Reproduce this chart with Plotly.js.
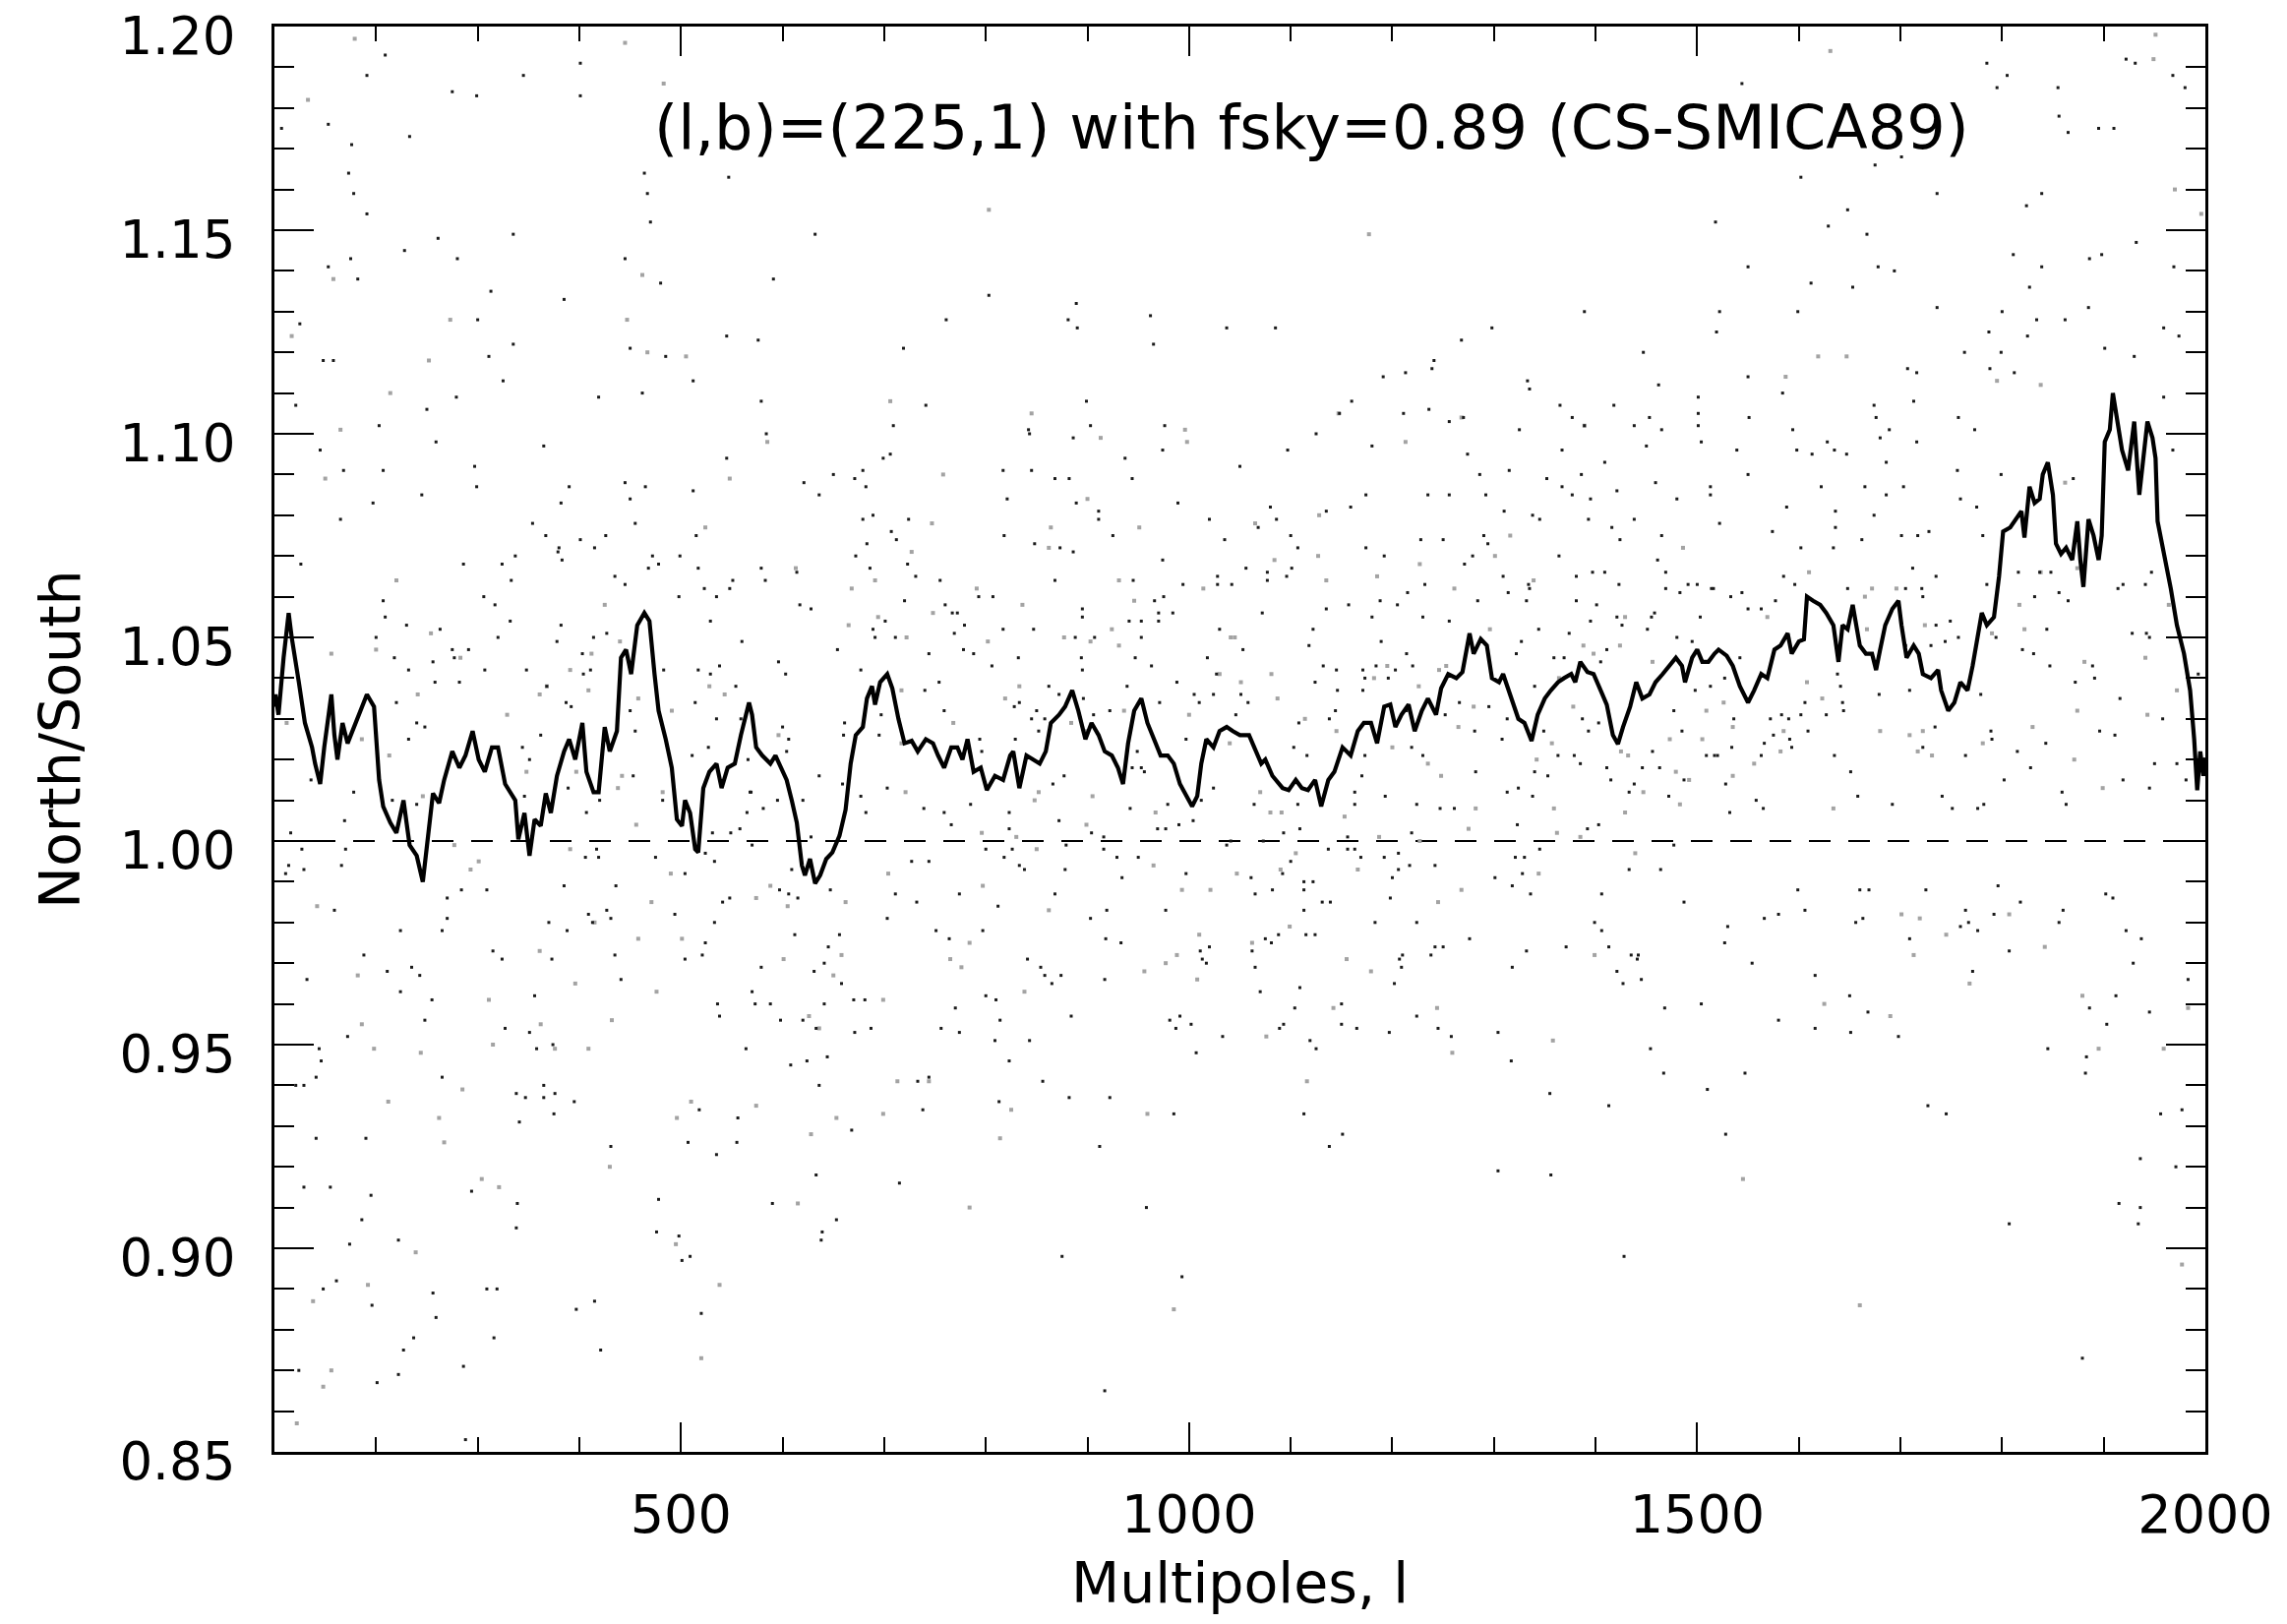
<!DOCTYPE html>
<html>
<head>
<meta charset="utf-8">
<script src="https://cdn.plot.ly/plotly-3.0.1.min.js"></script>
<style>
  html, body { margin: 0; padding: 0; background: #ffffff; }
  #chart { width: 2325px; height: 1651px; }
</style>
</head>
<body>
<div id="chart"></div>
<script>
// ---------------- DATA ----------------
const xRange = [100, 2000];
const yRange = [0.85, 1.20];
const referenceRatio = 1.0;
const xTickVals = [500, 1000, 1500, 2000];
const yTickVals = [0.85, 0.90, 0.95, 1.00, 1.05, 1.10, 1.15, 1.20];
const titleText = '(l,b)=(225,1) with fsky=0.89 (CS-SMICA89)';
const xTitle = 'Multipoles, l';
const yTitle = 'North/South';

// North/South ratio curve [multipole l, ratio]
const ratioCurve = [
 [100,1.033],[101,1.036],[104,1.031],[109,1.045],[114,1.056],[117,1.050],[124,1.039],[130,1.029],[137,1.023],[140,1.019],
 [145,1.014],[149,1.023],[156,1.036],[159,1.026],[162,1.020],[167,1.029],[172,1.024],[178,1.028],[185,1.032],[191,1.036],
 [198,1.033],[203,1.015],[207,1.0085],[214,1.0045],[220,1.002],[227,1.010],[233,0.999],[240,0.9964],[246,0.990],[251,1.0013],
 [256,1.0117],[262,1.0093],[267,1.015],[275,1.022],[282,1.018],[288,1.021],[295,1.027],[301,1.020],[307,1.017],[314,1.023],
 [320,1.023],[327,1.014],[337,1.010],[340,1.0004],[346,1.0069],[351,0.9964],[356,1.0053],[362,1.0037],[367,1.0117],[372,1.0069],
 [378,1.016],[385,1.022],[390,1.025],[396,1.020],[403,1.029],[407,1.017],[414,1.012],[419,1.012],[425,1.028],[430,1.022],
 [437,1.027],[441,1.045],[446,1.047],[451,1.041],[457,1.053],[464,1.056],[469,1.054],[474,1.041],[478,1.032],[485,1.025],
 [491,1.018],[496,1.0053],[501,1.0037],[504,1.010],[509,1.0069],[514,0.998],[517,0.9972],[522,1.013],[528,1.017],[535,1.019],
 [540,1.013],[546,1.018],[553,1.019],[559,1.026],[567,1.034],[570,1.031],[574,1.023],[580,1.021],[588,1.019],[593,1.021],
 [599,1.018],[604,1.015],[609,1.010],[614,1.0045],[619,0.994],[622,0.9916],[627,0.9956],[632,0.9896],[637,0.9916],[643,0.9956],
 [649,0.9972],[656,1.0013],[662,1.0077],[667,1.019],[672,1.026],[679,1.028],[683,1.035],[688,1.038],[691,1.0335],[696,1.039],
 [703,1.041],[708,1.0375],[714,1.030],[720,1.024],[727,1.0246],[733,1.022],[741,1.025],[748,1.024],[753,1.021],[759,1.018],
 [766,1.023],[772,1.023],[777,1.020],[782,1.025],[788,1.017],[795,1.018],[801,1.0125],[809,1.016],[817,1.015],[824,1.021],
 [827,1.022],[833,1.013],[840,1.021],[846,1.020],[853,1.019],[859,1.022],[864,1.029],[872,1.031],[878,1.033],[885,1.037],
 [891,1.032],[898,1.025],[904,1.029],[911,1.026],[917,1.022],[924,1.021],[930,1.018],[935,1.014],[940,1.024],[946,1.032],
 [953,1.035],[959,1.029],[966,1.025],[972,1.021],[979,1.021],[985,1.019],[991,1.014],[998,1.011],[1003,1.0085],[1008,1.011],
 [1012,1.019],[1017,1.025],[1024,1.023],[1030,1.027],[1037,1.028],[1043,1.027],[1050,1.026],[1059,1.026],[1064,1.023],[1071,1.019],
 [1075,1.020],[1082,1.016],[1092,1.013],[1098,1.0125],[1105,1.015],[1111,1.013],[1117,1.0125],[1124,1.015],[1130,1.0085],[1137,1.015],
 [1143,1.017],[1151,1.023],[1159,1.021],[1166,1.027],[1172,1.029],[1179,1.029],[1185,1.024],[1192,1.033],[1198,1.0335],[1203,1.028],
 [1209,1.031],[1216,1.0335],[1222,1.027],[1229,1.032],[1235,1.035],[1243,1.031],[1248,1.0375],[1255,1.041],[1263,1.040],[1269,1.0415],
 [1276,1.051],[1280,1.046],[1287,1.0496],[1293,1.048],[1298,1.040],[1305,1.039],[1309,1.041],[1316,1.036],[1324,1.030],[1330,1.029],
 [1337,1.0246],[1343,1.031],[1350,1.035],[1356,1.037],[1363,1.039],[1369,1.040],[1376,1.041],[1380,1.039],[1385,1.044],[1392,1.0415],
 [1398,1.041],[1405,1.037],[1411,1.0335],[1417,1.026],[1422,1.0238],[1427,1.028],[1434,1.033],[1440,1.039],[1446,1.035],[1453,1.036],
 [1459,1.039],[1466,1.041],[1472,1.043],[1479,1.045],[1485,1.043],[1488,1.039],[1495,1.045],[1500,1.047],[1505,1.044],[1511,1.044],
 [1517,1.046],[1521,1.047],[1529,1.0455],[1535,1.043],[1542,1.038],[1550,1.034],[1556,1.037],[1563,1.041],[1569,1.040],[1576,1.047],
 [1582,1.048],[1589,1.051],[1593,1.046],[1600,1.049],[1605,1.0495],[1608,1.060],[1614,1.059],[1621,1.058],[1627,1.056],[1634,1.053],
 [1639,1.044],[1643,1.053],[1648,1.052],[1653,1.058],[1660,1.048],[1666,1.046],[1672,1.046],[1676,1.042],[1680,1.047],[1685,1.053],
 [1692,1.057],[1698,1.059],[1701,1.053],[1706,1.045],[1713,1.048],[1718,1.046],[1722,1.041],[1730,1.040],[1737,1.042],[1740,1.037],
 [1747,1.032],[1753,1.034],[1759,1.039],[1766,1.037],[1771,1.043],[1776,1.0495],[1780,1.056],[1785,1.053],[1792,1.055],[1797,1.065],
 [1801,1.076],[1808,1.077],[1814,1.079],[1819,1.081],[1822,1.0745],[1827,1.087],[1832,1.083],[1837,1.084],[1840,1.090],[1845,1.093],
 [1850,1.085],[1853,1.073],[1858,1.0705],[1863,1.072],[1869,1.069],[1874,1.0785],[1877,1.069],[1880,1.0624],[1885,1.079],[1890,1.075],
 [1895,1.069],[1898,1.075],[1901,1.098],[1906,1.101],[1909,1.110],[1913,1.103],[1918,1.096],[1924,1.091],[1930,1.103],[1935,1.085],
 [1939,1.093],[1943,1.103],[1948,1.099],[1951,1.094],[1953,1.0785],[1960,1.070],[1966,1.062],[1972,1.053],[1979,1.046],[1985,1.037],
 [1989,1.025],[1992,1.0125],[1995,1.022],[1998,1.016],[2000,1.0205]
];

// scattered black points [l, ratio]
const blackPoints = [
 [209,1.193],[191,1.188],[345,1.188],[401,1.191],[275,1.184],[299,1.183],[401,1.183],[153,1.176],[233,1.173],[107,1.175],[176,1.171],[173,1.164],[178,1.159],[191,1.154],[547,1.163],[464,1.164],[467,1.159],[470,1.152],[632,1.149],[335,1.149],[261,1.148],[228,1.145],[280,1.143],[175,1.143],[153,1.141],[182,1.138],[445,1.143],[480,1.137],[591,1.138],[313,1.135],[385,1.133],[803,1.134],[889,1.132],[761,1.128],[881,1.128],[962,1.129],[890,1.126],[1037,1.126],[965,1.122],[125,1.127],[300,1.128],[545,1.124],[576,1.123],[719,1.121],[335,1.122],[450,1.121],[485,1.119],[311,1.119],[148,1.118],[158,1.118],[325,1.113],[512,1.113],[419,1.109],[462,1.110],[279,1.109],[579,1.108],[741,1.107],[899,1.108],[250,1.106],[121,1.107],[203,1.102],[709,1.102],[842,1.101],[903,1.102],[976,1.102],[259,1.098],[365,1.097],[584,1.100],[886,1.099],[843,1.100],[145,1.096],[706,1.095],[699,1.094],[974,1.096],[937,1.094],[545,1.094],[679,1.091],[817,1.091],[845,1.091],[207,1.091],[168,1.091],[297,1.092],[299,1.087],[390,1.087],[445,1.088],[465,1.087],[512,1.086],[621,1.088],[650,1.090],[671,1.089],[682,1.087],[868,1.089],[882,1.089],[944,1.089],[245,1.085],[197,1.083],[382,1.083],[450,1.084],[636,1.085],[821,1.084],[889,1.083],[911,1.081],[989,1.083],[165,1.079],[354,1.078],[455,1.078],[679,1.079],[689,1.080],[724,1.079],[911,1.079],[1020,1.079],[367,1.075],[401,1.074],[426,1.075],[515,1.075],[707,1.076],[818,1.075],[925,1.075],[1035,1.074],[380,1.072],[415,1.072],[683,1.073],[712,1.074],[848,1.073],[873,1.072],
 [1544,1.186],[1785,1.191],[1805,1.188],[1855,1.185],[1795,1.185],[1922,1.192],[1931,1.191],[1856,1.178],[1865,1.174],[1895,1.175],[1910,1.175],[1968,1.188],[1980,1.185],[1701,1.168],[1675,1.166],[1602,1.163],[1736,1.159],[1839,1.159],[1824,1.156],[1648,1.155],[1518,1.152],[1629,1.151],[1667,1.149],[1811,1.144],[1886,1.143],[1898,1.144],[1932,1.147],[1969,1.141],[1550,1.141],[1694,1.140],[1678,1.141],[1839,1.141],[1612,1.137],[1653,1.136],[1827,1.136],[1736,1.131],[1522,1.130],[1599,1.130],[1800,1.130],[1834,1.128],[1862,1.128],[1885,1.131],[1389,1.130],[1085,1.126],[1268,1.123],[1298,1.126],[1519,1.125],[1787,1.125],[1825,1.124],[1959,1.126],[1974,1.124],[1901,1.121],[1930,1.119],[1763,1.120],[1799,1.120],[1447,1.120],[1241,1.118],[1239,1.116],[1213,1.115],[1191,1.114],[1707,1.116],[1716,1.115],[1788,1.116],[1812,1.115],[1333,1.113],[1462,1.112],[1550,1.114],[1160,1.108],[1335,1.111],[1365,1.107],[1418,1.107],[1501,1.109],[1584,1.110],[1674,1.107],[1713,1.108],[1959,1.109],[1148,1.105],[1211,1.105],[1236,1.106],[1256,1.103],[1270,1.104],[1377,1.104],[1389,1.102],[1438,1.102],[1453,1.104],[1501,1.105],[1501,1.102],[1551,1.104],[1676,1.104],[1689,1.101],[1757,1.104],[1125,1.100],[1325,1.101],[1465,1.101],[1594,1.101],[1773,1.101],[1097,1.096],[1180,1.097],[1367,1.096],[1450,1.097],[1504,1.098],[1628,1.098],[1680,1.099],[1716,1.098],[1050,1.092],[1274,1.095],[1409,1.093],[1539,1.096],[1598,1.096],[1613,1.095],[1635,1.096],[1647,1.095],[1686,1.093],[1756,1.091],[1799,1.090],[1870,1.089],[1968,1.096],[1315,1.091],[1286,1.090],[1386,1.090],[1352,1.089],[1459,1.088],[1550,1.090],[1622,1.087],[1665,1.087],[1703,1.087],[1367,1.087],[1421,1.086],[1513,1.087],[1174,1.085],[1235,1.085],[1256,1.085],[1292,1.085],[1377,1.085],[1395,1.084],[1480,1.084],[1513,1.085],[1686,1.085],[1759,1.084],[1080,1.082],[1135,1.081],[1159,1.082],[1310,1.081],[1338,1.080],[1588,1.082],[1636,1.081],[1775,1.082],[1674,1.080],[1086,1.079],[1068,1.077],[1345,1.079],[1393,1.079],[1438,1.079],[1416,1.077],[1522,1.078],[1574,1.076],[1636,1.077],[1728,1.076],[1100,1.075],[1174,1.072],[1107,1.072],[1228,1.074],[1250,1.074],[1294,1.073],[1290,1.075],[1424,1.074],[1465,1.075],[1602,1.072],[1634,1.072],[1662,1.074],[1701,1.075],[1717,1.075],[1781,1.075],
 [126,1.068],[337,1.070],[379,1.071],[383,1.069],[286,1.068],[324,1.068],[333,1.064],[472,1.070],[478,1.068],[468,1.067],[499,1.070],[517,1.067],[435,1.065],[445,1.063],[523,1.062],[535,1.060],[551,1.064],[548,1.062],[498,1.060],[306,1.060],[317,1.058],[207,1.059],[209,1.055],[230,1.053],[263,1.052],[332,1.054],[382,1.053],[529,1.054],[320,1.050],[200,1.050],[378,1.049],[414,1.050],[427,1.051],[560,1.049],[275,1.047],[291,1.047],[403,1.046],[218,1.045],[277,1.045],[256,1.044],[232,1.042],[307,1.042],[348,1.042],[483,1.042],[404,1.041],[411,1.042],[517,1.042],[529,1.041],[538,1.043],[258,1.039],[282,1.039],[368,1.038],[554,1.038],[220,1.034],[387,1.034],[392,1.033],[514,1.034],[450,1.032],[535,1.030],[559,1.030],[240,1.029],[248,1.028],[455,1.027],[362,1.026],[232,1.025],[527,1.023],[344,1.023],[351,1.020],[511,1.021],[566,1.020],[136,1.015],[178,1.012],[389,1.013],[453,1.016],[346,1.011],[482,1.010],[568,1.012],[216,1.010],[240,1.009],[420,1.010],[565,1.007],[407,1.007],[169,1.005],[116,1.002],[531,1.002],[549,1.002],[558,1.003],[419,0.996],[406,0.996],[475,0.996],[417,0.998],[533,0.995],[570,0.999],[127,0.998],[170,0.998],[114,0.994],[166,0.994],[129,0.993],[111,0.992],[504,0.992],[524,0.997],
 [579,1.067],[583,1.064],[614,1.066],[686,1.067],[723,1.068],[731,1.065],[672,1.070],[886,1.071],[974,1.069],[755,1.064],[868,1.064],[945,1.064],[994,1.063],[1028,1.065],[1028,1.063],[1042,1.063],[617,1.058],[628,1.057],[720,1.059],[760,1.058],[767,1.056],[772,1.056],[793,1.060],[807,1.060],[966,1.059],[975,1.060],[970,1.056],[970,1.054],[984,1.056],[895,1.057],[895,1.055],[689,1.052],[701,1.054],[691,1.050],[711,1.050],[779,1.053],[817,1.052],[847,1.052],[769,1.051],[888,1.050],[907,1.050],[941,1.054],[953,1.054],[953,1.050],[1030,1.052],[654,1.047],[778,1.047],[744,1.046],[788,1.046],[832,1.045],[894,1.045],[947,1.045],[1018,1.045],[596,1.044],[603,1.041],[677,1.042],[806,1.043],[895,1.042],[963,1.043],[1027,1.041],[754,1.039],[862,1.038],[939,1.038],[988,1.039],[740,1.037],[872,1.036],[896,1.035],[971,1.034],[1005,1.036],[1024,1.036],[1010,1.034],[833,1.034],[828,1.033],[850,1.032],[922,1.032],[906,1.031],[759,1.032],[845,1.030],[858,1.030],[697,1.031],[661,1.029],[997,1.025],[600,1.028],[606,1.025],[660,1.026],[695,1.026],[829,1.025],[794,1.025],[852,1.027],[796,1.022],[949,1.022],[604,1.022],[636,1.016],[877,1.016],[944,1.018],[953,1.018],[956,1.017],[866,1.014],[703,1.013],[659,1.014],[677,1.011],[569,1.012],[785,1.009],[620,1.010],[595,1.010],[581,1.008],[739,1.008],[1024,1.013],[1012,1.010],[942,1.008],[979,1.009],[682,1.007],[759,1.007],[823,1.007],[766,1.004],[823,1.003],[872,1.005],[1004,1.005],[990,1.004],[904,1.002],[969,1.003],[977,1.003],[916,1.001],[1041,1.000],[1037,0.999],[800,0.998],[826,0.998],[916,0.998],[929,0.996],[950,0.996],[818,0.996],[879,0.999],[609,0.993],[628,1.001],[727,0.995],[744,0.995],[833,0.994],[838,0.993],[878,0.993],[934,0.991],[997,0.992],
 [1056,1.067],[1077,1.066],[1077,1.064],[1096,1.065],[1101,1.067],[1192,1.070],[1271,1.068],[1279,1.070],[1364,1.070],[1397,1.066],[1409,1.066],[1461,1.069],[1469,1.066],[1491,1.063],[1500,1.063],[1516,1.062],[1469,1.062],[1483,1.061],[1309,1.065],[1334,1.063],[1335,1.062],[1423,1.063],[1381,1.065],[1232,1.063],[1215,1.061],[1314,1.061],[1332,1.059],[1188,1.059],[1157,1.058],[1205,1.058],[1284,1.059],[1401,1.058],[1381,1.059],[1072,1.056],[1135,1.057],[1180,1.055],[1230,1.055],[1256,1.054],[1421,1.055],[1426,1.053],[1458,1.056],[1455,1.055],[1503,1.055],[1451,1.052],[1395,1.054],[1344,1.052],[1374,1.051],[1122,1.052],[1053,1.047],[1118,1.048],[1189,1.049],[1327,1.049],[1411,1.047],[1480,1.050],[1495,1.049],[1214,1.046],[1322,1.046],[1359,1.045],[1369,1.045],[1405,1.044],[1145,1.042],[1171,1.042],[1220,1.043],[1184,1.043],[1173,1.040],[1196,1.040],[1203,1.042],[1124,1.039],[1132,1.043],[1051,1.036],[1058,1.034],[1146,1.037],[1171,1.037],[1340,1.038],[1498,1.037],[1513,1.038],[1046,1.031],[1144,1.032],[1138,1.030],[1108,1.029],[1266,1.034],[1295,1.033],[1252,1.031],[1214,1.032],[1313,1.030],[1387,1.030],[1403,1.029],[1477,1.032],[1485,1.027],[1281,1.027],[1349,1.027],[1393,1.027],[1308,1.025],[1219,1.023],[1103,1.023],[1116,1.021],[1173,1.021],[1230,1.021],[1363,1.021],[1385,1.019],[1379,1.021],[1456,1.022],[1509,1.021],[1517,1.021],[1411,1.018],[1446,1.018],[1463,1.018],[1170,1.016],[1282,1.017],[1340,1.017],[1353,1.016],[1415,1.015],[1438,1.014],[1487,1.015],[1064,1.009],[1107,1.009],[1163,1.009],[1163,1.012],[1193,1.011],[1224,1.009],[1247,1.008],[1261,1.008],[1313,1.012],[1324,1.013],[1338,1.011],[1433,1.012],[1472,1.011],[1109,1.003],[1093,1.002],[1156,1.001],[1323,1.004],[1392,1.003],[1403,1.004],[1219,1.002],[1477,0.999],[1073,1.000],[1137,0.998],[1156,0.998],[1163,0.998],[1345,0.998],[1169,0.996],[1192,0.996],[1206,0.997],[1217,0.994],[1100,0.995],[1321,0.996],[1330,0.996],[1433,0.993],[1464,0.993],[1242,0.994],[1206,0.993],[1200,0.991],[1061,0.991],[1092,0.992],[1113,0.990],[1122,0.990],[1301,0.991],[1328,0.992],
 [1712,1.067],[1816,1.066],[1848,1.066],[1947,1.066],[1837,1.066],[1919,1.063],[1914,1.062],[1941,1.063],[1735,1.065],[1585,1.065],[1596,1.063],[1514,1.062],[1544,1.061],[1648,1.062],[1705,1.062],[1721,1.062],[1785,1.063],[1533,1.060],[1577,1.059],[1856,1.061],[1832,1.060],[1865,1.059],[1550,1.057],[1563,1.057],[1722,1.060],[1749,1.054],[1735,1.053],[1757,1.050],[1794,1.050],[1844,1.052],[1928,1.051],[1942,1.051],[1945,1.050],[1744,1.049],[1542,1.045],[1730,1.048],[1705,1.048],[1820,1.047],[1831,1.046],[1847,1.043],[1889,1.043],[1891,1.040],[1993,1.041],[1527,1.040],[1638,1.041],[1641,1.038],[1872,1.039],[1606,1.034],[1627,1.031],[1643,1.034],[1644,1.032],[1679,1.036],[1709,1.037],[1779,1.036],[1536,1.030],[1572,1.030],[1583,1.031],[1590,1.030],[1602,1.031],[1916,1.035],[1958,1.030],[1789,1.027],[1790,1.025],[1734,1.028],[1896,1.027],[1911,1.026],[1566,1.024],[1575,1.026],[1591,1.025],[1593,1.023],[1609,1.027],[1843,1.024],[1815,1.022],[1534,1.023],[1520,1.021],[1563,1.021],[1635,1.021],[1722,1.023],[1764,1.021],[1950,1.019],[1972,1.019],[1981,1.015],[1828,1.018],[1651,1.017],[1528,1.014],[1802,1.015],[1919,1.015],[1945,1.013],[1859,1.012],[1863,1.009],[1558,1.010],[1565,1.008],[1658,1.011],[1692,1.009],[1741,1.011],[1751,1.008],[1776,1.008],[1782,1.009],[1532,1.007],
 [284,0.988],[309,0.988],[385,0.989],[436,0.989],[597,0.988],[615,0.986],[606,0.987],[647,0.988],[711,0.987],[732,0.985],[774,0.987],[868,0.987],[270,0.986],[548,0.986],[541,0.985],[427,0.983],[431,0.981],[409,0.982],[494,0.982],[812,0.984],[919,0.983],[977,0.983],[903,0.981],[703,0.981],[159,0.983],[270,0.981],[370,0.980],[413,0.980],[533,0.980],[751,0.978],[388,0.978],[224,0.978],[265,0.978],[612,0.977],[656,0.977],[797,0.978],[918,0.976],[933,0.975],[524,0.975],[764,0.976],[315,0.973],[435,0.972],[373,0.971],[324,0.971],[188,0.972],[504,0.971],[521,0.972],[645,0.974],[841,0.971],[1011,0.973],[1020,0.974],[1013,0.971],[1017,0.970],[579,0.969],[641,0.970],[211,0.968],[235,0.969],[243,0.967],[631,0.968],[854,0.969],[858,0.967],[874,0.967],[865,0.965],[917,0.966],[132,0.966],[441,0.966],[224,0.963],[658,0.965],[570,0.963],[356,0.962],[255,0.961],[536,0.960],[573,0.960],[588,0.960],[641,0.960],[670,0.961],[681,0.961],[800,0.962],[810,0.961],[770,0.959],[538,0.957],[598,0.956],[620,0.956],[884,0.957],[991,0.957],[981,0.956],[814,0.956],[1002,0.955],[987,0.954],[1033,0.952],[248,0.956],[327,0.954],[633,0.954],[671,0.953],[687,0.954],[756,0.954],[774,0.953],[351,0.953],[172,0.952],[809,0.951],[843,0.951],[564,0.949],[374,0.950],[358,0.949],[144,0.949],[1007,0.948],[146,0.946],[608,0.945],[624,0.946],[644,0.947],[823,0.946],[265,0.942],[744,0.942],[733,0.941],[856,0.941],[141,0.942],[121,0.940],[129,0.940],[365,0.940],[338,0.938],[347,0.937],[365,0.937],[376,0.938],[395,0.936],[636,0.940],[882,0.937],[922,0.937],[813,0.936],[375,0.933],[518,0.934],[738,0.934],[985,0.933],[341,0.931],[556,0.932],[668,0.929],[141,0.927],[190,0.927],[507,0.926],[555,0.926],[431,0.925],[535,0.923],[912,0.925],[633,0.918],[715,0.916],[129,0.915],[155,0.915],[195,0.913],[294,0.914],[339,0.911],[478,0.912],[590,0.911],[958,0.910],[186,0.907],[653,0.907],[338,0.905],[476,0.904],[498,0.903],[639,0.904],[638,0.902],[174,0.901],[222,0.902],[509,0.898],[501,0.897],[875,0.898],[993,0.893],[161,0.892],[148,0.890],[256,0.889],[309,0.890],[319,0.890],[196,0.886],[415,0.887],[397,0.885],[520,0.884],[259,0.883],[316,0.878],[237,0.878],[227,0.875],[421,0.875],[286,0.871],[124,0.870],[222,0.869],[201,0.867],[917,0.865],[288,0.853],
 [1065,0.987],[1082,0.988],[1113,0.988],[1318,0.989],[1336,0.987],[1406,0.987],[1599,0.988],[1660,0.988],[1669,0.988],[1725,0.988],[1796,0.989],[1902,0.987],[1909,0.986],[1818,0.985],[1487,0.985],[1131,0.985],[1139,0.985],[1198,0.986],[1113,0.983],[1183,0.980],[1224,0.980],[1399,0.980],[1406,0.978],[1566,0.981],[1580,0.982],[1606,0.983],[1663,0.981],[1656,0.980],[1764,0.983],[1767,0.980],[1792,0.982],[1860,0.983],[1856,0.980],[1530,0.979],[1759,0.979],[1776,0.978],[1922,0.978],[1937,0.976],[1709,0.976],[1527,0.975],[1088,0.977],[1075,0.976],[1081,0.975],[1115,0.977],[1124,0.977],[1276,0.976],[1062,0.973],[1242,0.974],[1250,0.974],[1371,0.974],[1413,0.974],[1210,0.972],[1207,0.971],[1238,0.972],[1332,0.973],[1435,0.972],[1442,0.972],[1441,0.971],[1807,0.973],[1929,0.970],[1554,0.970],[1209,0.969],[1318,0.969],[1421,0.968],[1445,0.966],[1616,0.967],[1771,0.968],[1983,0.966],[1065,0.969],[1070,0.963],[1109,0.964],[1202,0.965],[1427,0.965],[1650,0.962],[1912,0.962],[1150,0.960],[1104,0.959],[1468,0.959],[1504,0.960],[1886,0.959],[1945,0.958],[1668,0.958],[1224,0.957],[1580,0.956],[1903,0.955],[1093,0.955],[1089,0.954],[1150,0.955],[1165,0.954],[1197,0.953],[1245,0.954],[1258,0.952],[1304,0.953],[1616,0.954],[1651,0.953],[1698,0.952],[1119,0.951],[1125,0.949],[1454,0.949],[1845,0.949],[1883,0.947],[1882,0.943],[1317,0.946],[1467,0.943],[1547,0.943],[1355,0.938],[1510,0.939],[1413,0.935],[1727,0.935],[1745,0.933],[1956,0.933],[1977,0.934],[1113,0.933],[1151,0.928],[1528,0.928],[1138,0.925],[1936,0.922],[1971,0.920],[1304,0.919],[1356,0.918],[1915,0.911],[1936,0.910],[1807,0.906],[1934,0.906],[1428,0.898],[1879,0.873]
];

// scattered grey points [l, ratio]
const greyPoints = [
 [179,1.197],[445,1.196],[483,1.186],[133,1.182],[803,1.155],[462,1.139],[158,1.138],[117,1.124],[273,1.128],[447,1.128],[252,1.118],[467,1.120],[505,1.119],[214,1.110],[706,1.108],[165,1.101],[585,1.098],[845,1.105],[996,1.101],[913,1.099],[998,1.098],[150,1.089],[548,1.089],[758,1.090],[900,1.084],[747,1.078],[864,1.077],[951,1.077],[524,1.077],[862,1.072],
 [1631,1.194],[1951,1.198],[1949,1.192],[1970,1.160],[1177,1.149],[1996,1.154],[1619,1.119],[1647,1.119],[1838,1.112],[1795,1.113],[1587,1.114],[1147,1.105],[1268,1.104],[1389,1.102],[1213,1.098],[1128,1.080],[1065,1.078],[1486,1.072],[1862,1.088],[1316,1.075],
 [220,1.064],[425,1.058],[156,1.046],[200,1.047],[254,1.051],[283,1.045],[241,1.036],[440,1.049],[412,1.046],[391,1.042],[409,1.037],[361,1.036],[368,1.038],[528,1.038],[543,1.036],[458,1.035],[491,1.032],[329,1.031],[112,1.029],[186,1.025],[213,1.021],[348,1.017],[442,1.016],[438,1.013],[482,1.012],[246,1.011],[397,1.017],[456,1.004],[277,0.999],[391,0.998],[293,0.993],[301,0.995],[490,0.992],
 [613,1.067],[691,1.064],[668,1.062],[727,1.071],[791,1.062],[748,1.056],[694,1.055],[665,1.053],[722,1.050],[802,1.049],[836,1.058],[877,1.050],[903,1.049],[931,1.064],[946,1.059],[931,1.048],[924,1.052],[1014,1.062],[1041,1.050],[1030,1.041],[1051,1.039],[833,1.038],[819,1.035],[717,1.037],[936,1.032],[1000,1.031],[768,1.029],[884,1.029],[898,1.027],[596,1.026],[717,1.024],[1040,1.024],[721,1.012],[852,1.012],[905,1.011],[848,1.010],[967,1.007],[899,1.004],[796,1.002],[830,1.001],[850,0.998],[965,0.994],[704,0.992],
 [1127,1.070],[1084,1.069],[1227,1.068],[1301,1.070],[1185,1.065],[1135,1.064],[1261,1.062],[1339,1.064],[1296,1.052],[1429,1.055],[1045,1.050],[1388,1.048],[1398,1.046],[1424,1.048],[1195,1.043],[1253,1.043],[1081,1.041],[1182,1.040],[1364,1.040],[1246,1.042],[1456,1.044],[1226,1.038],[1509,1.032],[1378,1.033],[1087,1.035],[1280,1.033],[1114,1.030],[1265,1.028],[1145,1.027],[1200,1.023],[1357,1.024],[1473,1.025],[1505,1.025],[1342,1.020],[1425,1.022],[1432,1.021],[1235,1.019],[1248,1.016],[1479,1.017],[1492,1.015],[1070,1.012],[1447,1.012],[1483,1.009],[1080,1.007],[1091,1.007],[1282,1.008],[1359,1.008],[1429,1.007],[1153,1.006],[1275,1.003],[1362,1.002],[1385,1.001],[1187,1.001],[1227,1.000],[1105,0.997],[1439,0.997],[1090,0.993],[1166,0.993],[1047,0.992],[1344,0.992],
 [1610,1.066],[1838,1.066],[1672,1.062],[1696,1.062],[1665,1.060],[1817,1.058],[1964,1.058],[1724,1.053],[1667,1.052],[1822,1.052],[1569,1.055],[1790,1.051],[1874,1.067],[1941,1.045],[1881,1.044],[1608,1.039],[1623,1.035],[1972,1.037],[1526,1.034],[1874,1.032],[1943,1.031],[1535,1.028],[1680,1.027],[1722,1.027],[1585,1.027],[1830,1.028],[1709,1.026],[1781,1.024],[1717,1.022],[1731,1.021],[1582,1.022],[1556,1.019],[1871,1.020],[1535,1.016],[1899,1.013],[1634,1.008],
 [142,0.984],[471,0.985],[588,0.989],[574,0.986],[605,0.984],[662,0.985],[797,0.989],[862,0.983],[993,0.988],[1021,0.988],[415,0.980],[458,0.976],[501,0.976],[784,0.975],[1010,0.977],[361,0.973],[658,0.972],[988,0.972],[601,0.971],[765,0.971],[977,0.970],[776,0.969],[956,0.968],[182,0.967],[650,0.967],[1008,0.966],[396,0.965],[476,0.963],[838,0.963],[311,0.961],[699,0.961],[626,0.957],[186,0.955],[362,0.955],[432,0.956],[636,0.954],[315,0.950],[198,0.949],[244,0.948],[376,0.949],[409,0.949],[713,0.941],[744,0.941],[285,0.939],[212,0.936],[510,0.936],[574,0.935],[825,0.934],[262,0.932],[496,0.932],[653,0.932],[699,0.933],[959,0.933],[628,0.928],[814,0.927],[267,0.926],[430,0.920],[304,0.917],[321,0.915],[615,0.911],[784,0.910],[239,0.899],[495,0.901],[192,0.891],[538,0.891],[138,0.887],[985,0.885],[520,0.873],[156,0.870],[148,0.866],[122,0.857],
 [1062,0.975],[1099,0.979],[1245,0.985],[1268,0.988],[1701,0.982],[1719,0.981],[1807,0.982],[1745,0.977],[1842,0.974],[1155,0.971],[1179,0.968],[1399,0.972],[1713,0.972],[1768,0.965],[1879,0.962],[1625,0.960],[1142,0.959],[1244,0.959],[1690,0.957],[1076,0.952],[1259,0.948],[1358,0.951],[1895,0.949],[1959,0.949],[1116,0.941],[1545,0.917],[1983,0.959],[1977,0.896],[1660,0.886]
];

// ---------------- CHART ----------------
const col = (arr, i) => arr.map(p => p[i]);

const traces = [
  {
    type: 'scatter', mode: 'markers', name: 'grey',
    x: col(greyPoints, 0), y: col(greyPoints, 1),
    marker: {symbol: 'square', size: 4, color: '#a3a3a3', line: {width: 0}},
    hoverinfo: 'skip', cliponaxis: true
  },
  {
    type: 'scatter', mode: 'markers', name: 'black',
    x: col(blackPoints, 0), y: col(blackPoints, 1),
    marker: {symbol: 'square', size: 3, color: '#1a1a1a', line: {width: 0}},
    hoverinfo: 'skip', cliponaxis: true
  },
  {
    type: 'scatter', mode: 'lines', name: 'North/South',
    x: col(ratioCurve, 0), y: col(ratioCurve, 1),
    line: {color: '#000000', width: 4.2},
    hoverinfo: 'skip'
  }
];

const fontFam = 'DejaVu Sans, Arial, sans-serif';

const layout = {
  width: 2325, height: 1651,
  margin: {l: 279, r: 83, t: 27, b: 175, pad: 0},
  paper_bgcolor: '#ffffff', plot_bgcolor: '#ffffff',
  showlegend: false,
  font: {family: fontFam, color: '#000000', size: 54},
  xaxis: {
    range: xRange, tickmode: 'array', tickvals: xTickVals, ticktext: xTickVals.map(String),
    ticks: 'inside', ticklen: 30, tickwidth: 2, tickcolor: '#000000',
    minor: {dtick: 100, tick0: 0, ticks: 'inside', ticklen: 15, tickwidth: 2, tickcolor: '#000000', showgrid: false},
    showline: true, linecolor: '#000000', linewidth: 3, mirror: 'allticks',
    showgrid: false, zeroline: false,
    tickfont: {family: fontFam, size: 54, color: '#000000'},
    ticklabelstandoff: 14, ticklabeloverflow: 'allow',
    title: {text: xTitle, font: {family: fontFam, size: 57, color: '#000000'}, standoff: 20},
    automargin: false
  },
  yaxis: {
    range: yRange, tickmode: 'array', tickvals: yTickVals, ticktext: yTickVals.map(v => v.toFixed(2)),
    ticks: 'inside', ticklen: 40, tickwidth: 2, tickcolor: '#000000',
    minor: {dtick: 0.01, tick0: 0, ticks: 'inside', ticklen: 20, tickwidth: 2, tickcolor: '#000000', showgrid: false},
    showline: true, linecolor: '#000000', linewidth: 3, mirror: 'allticks',
    showgrid: false, zeroline: false,
    tickfont: {family: fontFam, size: 53, color: '#000000'},
    ticklabelstandoff: 26, ticklabelshift: 9, ticklabeloverflow: 'allow',
    title: {text: yTitle, font: {family: fontFam, size: 57, color: '#000000'}, standoff: 22},
    automargin: false
  },
  shapes: [
    {type: 'line', xref: 'paper', x0: 0, x1: 1, yref: 'y', y0: referenceRatio, y1: referenceRatio,
     line: {color: '#000000', width: 2, dash: '22px,18px'}, layer: 'below'}
  ],
  annotations: [
    {text: titleText, xref: 'paper', yref: 'paper', x: 0.1956, y: 0.929, xanchor: 'left', yanchor: 'middle',
     showarrow: false, font: {family: fontFam, size: 62, color: '#000000'}}
  ]
};

Plotly.newPlot('chart', traces, layout, {displayModeBar: false, staticPlot: true});
</script>
</body>
</html>
